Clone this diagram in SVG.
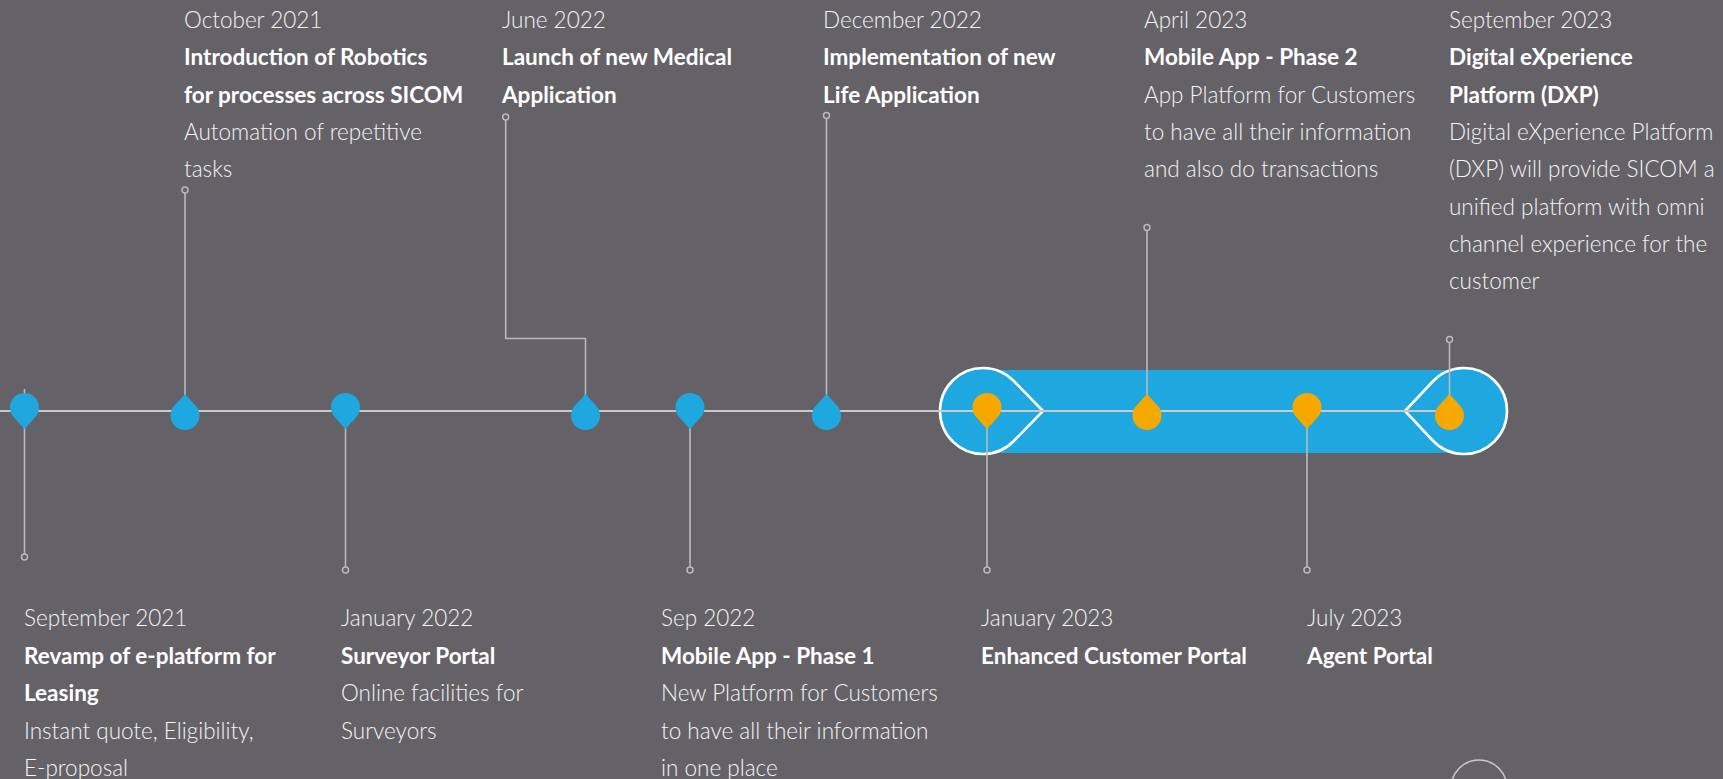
<svg xmlns="http://www.w3.org/2000/svg" xmlns:xlink="http://www.w3.org/1999/xlink" width="1723" height="779" viewBox="0 0 1723 779">
<style>
.bg{fill:#646267}
.axis{stroke:#C9C9CE;stroke-width:2;fill:none}
.conn{stroke:#B9B9BF;stroke-width:1.6;fill:none}
.end{stroke:#B9B9BF;stroke-width:1.5;fill:#646267}
.blue{fill:#1FA8E0}
.orange{fill:#F5A800}
.bulb{fill:#1FA8E0;stroke:#FFFFFF;stroke-width:2.6}
text{font-family:Lato,"Open Sans","Liberation Sans",sans-serif;font-size:22.5px;fill:#F4F4F4}
.lt{font-weight:300}
.bd{font-weight:700;fill:#FFFFFF}
</style>
<defs>
<path id="pinDown" d="M0,21.5 L-10.7,9.8 A14.5,14.5 0 1 1 10.7,9.8 Z"/>
<path id="pinUp" d="M0,-21.5 L10.7,-9.8 A14.5,14.5 0 1 1 -10.7,-9.8 Z"/>
</defs>
<rect class="bg" x="0" y="0" width="1723" height="779"/>
<g id="highlight-band">
<rect class="blue" x="983" y="370" width="481" height="83"/>
<path class="bulb" d="M1043,411 L1013.8,381 A43,43 0 1 0 1013.8,441 Z"/>
<path class="bulb" d="M1405,411 L1432.7,381.5 A43,43 0 1 1 1432.7,440.5 Z"/>
</g>
<g id="timeline-axis">
<line class="axis" x1="0" y1="411" x2="1450" y2="411"/>
</g>
<g id="connectors">
<line class="conn" x1="24.5" y1="389" x2="24.5" y2="554"/>
<circle class="end" cx="24.5" cy="557" r="3"/>
<line class="conn" x1="185" y1="193" x2="185" y2="400"/>
<circle class="end" cx="185" cy="190" r="3"/>
<line class="conn" x1="345.5" y1="420" x2="345.5" y2="567"/>
<circle class="end" cx="345.5" cy="570" r="3"/>
<polyline class="conn" points="585.5,400 585.5,338.5 505.7,338.5 505.7,120"/>
<circle class="end" cx="505.7" cy="117" r="3"/>
<line class="conn" x1="690" y1="420" x2="690" y2="567"/>
<circle class="end" cx="690" cy="570" r="3"/>
<line class="conn" x1="826.5" y1="118.5" x2="826.5" y2="400"/>
<circle class="end" cx="826.5" cy="115.5" r="3"/>
<line class="conn" x1="987" y1="420" x2="987" y2="567"/>
<circle class="end" cx="987" cy="570" r="3"/>
<line class="conn" x1="1147" y1="230.5" x2="1147" y2="400"/>
<circle class="end" cx="1147" cy="227.5" r="3"/>
<line class="conn" x1="1307" y1="420" x2="1307" y2="567"/>
<circle class="end" cx="1307" cy="570" r="3"/>
<line class="conn" x1="1449.5" y1="342.5" x2="1449.5" y2="400"/>
<circle class="end" cx="1449.5" cy="339.5" r="3"/>
</g>
<g id="ev-sep-2021">
<use href="#pinDown" class="blue" x="24.5" y="407.5"/>
<text x="24" y="626" class="lt">September 2021</text>
<text x="24" y="663.5" class="bd">Revamp of e-platform for</text>
<text x="24" y="701" class="bd">Leasing</text>
<text x="24" y="738.5" class="lt">Instant quote, Eligibility,</text>
<text x="24" y="776" class="lt">E-proposal</text>
</g>
<g id="ev-oct-2021">
<use href="#pinUp" class="blue" x="185" y="415.5"/>
<text x="184" y="28" class="lt">October 2021</text>
<text x="184" y="65.3" class="bd">Introduction of Robotics</text>
<text x="184" y="102.6" class="bd">for processes across SICOM</text>
<text x="184" y="140" class="lt">Automation of repetitive</text>
<text x="184" y="177.3" class="lt">tasks</text>
</g>
<g id="ev-jan-2022">
<use href="#pinDown" class="blue" x="345.5" y="407.5"/>
<text x="341" y="626" class="lt">January 2022</text>
<text x="341" y="663.5" class="bd">Surveyor Portal</text>
<text x="341" y="701" class="lt">Online facilities for</text>
<text x="341" y="738.5" class="lt">Surveyors</text>
</g>
<g id="ev-jun-2022">
<use href="#pinUp" class="blue" x="585.5" y="415.5"/>
<text x="502" y="28" class="lt">June 2022</text>
<text x="502" y="65.3" class="bd">Launch of new Medical</text>
<text x="502" y="102.6" class="bd">Application</text>
</g>
<g id="ev-sep-2022">
<use href="#pinDown" class="blue" x="690" y="407.5"/>
<text x="661" y="626" class="lt">Sep 2022</text>
<text x="661" y="663.5" class="bd">Mobile App - Phase 1</text>
<text x="661" y="701" class="lt">New Platform for Customers</text>
<text x="661" y="738.5" class="lt">to have all their information</text>
<text x="661" y="776" class="lt">in one place</text>
</g>
<g id="ev-dec-2022">
<use href="#pinUp" class="blue" x="826.5" y="415.5"/>
<text x="823" y="28" class="lt">December 2022</text>
<text x="823" y="65.3" class="bd">Implementation of new</text>
<text x="823" y="102.6" class="bd">Life Application</text>
</g>
<g id="ev-jan-2023">
<use href="#pinDown" class="orange" x="987" y="407.5"/>
<text x="981" y="626" class="lt">January 2023</text>
<text x="981" y="663.5" class="bd">Enhanced Customer Portal</text>
</g>
<g id="ev-apr-2023">
<use href="#pinUp" class="orange" x="1147" y="415.5"/>
<text x="1144" y="28" class="lt">April 2023</text>
<text x="1144" y="65.3" class="bd">Mobile App - Phase 2</text>
<text x="1144" y="102.6" class="lt">App Platform for Customers</text>
<text x="1144" y="140" class="lt">to have all their information</text>
<text x="1144" y="177.3" class="lt">and also do transactions</text>
</g>
<g id="ev-jul-2023">
<use href="#pinDown" class="orange" x="1307" y="407.5"/>
<text x="1307" y="626" class="lt">July 2023</text>
<text x="1307" y="663.5" class="bd">Agent Portal</text>
</g>
<g id="ev-sep-2023">
<use href="#pinUp" class="orange" x="1449.5" y="415.5"/>
<text x="1449" y="28" class="lt">September 2023</text>
<text x="1449" y="65.3" class="bd">Digital eXperience</text>
<text x="1449" y="102.6" class="bd">Platform (DXP)</text>
<text x="1449" y="140" class="lt">Digital eXperience Platform</text>
<text x="1449" y="177.3" class="lt">(DXP) will provide SICOM a</text>
<text x="1449" y="214.6" class="lt">unified platform with omni</text>
<text x="1449" y="252" class="lt">channel experience for the</text>
<text x="1449" y="289.3" class="lt">customer</text>
</g>
<g id="bottom-circle">
<circle cx="1479" cy="788" r="28" fill="none" stroke="#C9C9CE" stroke-width="1.6"/>
</g>
</svg>
